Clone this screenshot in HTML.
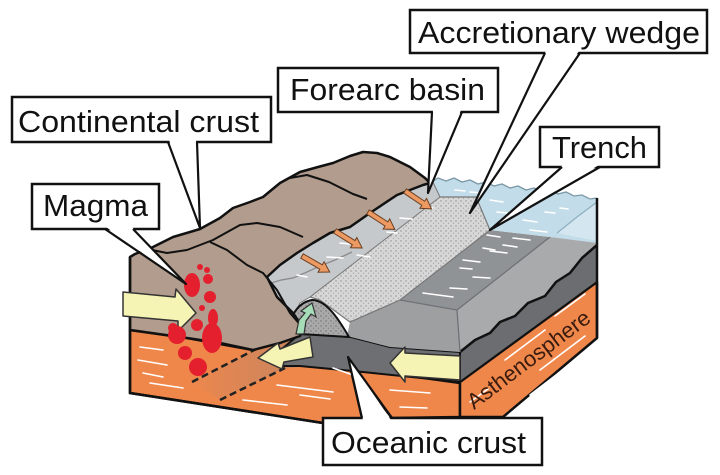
<!DOCTYPE html>
<html><head><meta charset="utf-8"><style>
html,body{margin:0;padding:0;background:#fff;}
svg{display:block;}
text{font-family:"Liberation Sans",Arial,sans-serif;fill:#111;}
</style></head><body>
<svg width="720" height="475" viewBox="0 0 720 475" xmlns="http://www.w3.org/2000/svg">
<defs>
<pattern id="dots" width="5" height="5" patternUnits="userSpaceOnUse">
<rect width="5" height="5" fill="#d7d7d7"/>
<circle cx="1" cy="1" r="0.7" fill="#8e8e8e"/>
<circle cx="3.5" cy="3.2" r="0.6" fill="#9c9c9c"/>
</pattern>
<pattern id="dots2" width="5" height="5" patternUnits="userSpaceOnUse">
<rect width="5" height="5" fill="#a9a9aa"/>
<circle cx="1" cy="1" r="0.7" fill="#6f6f6f"/>
<circle cx="3.5" cy="3.2" r="0.6" fill="#7a7a7a"/>
</pattern>
<linearGradient id="slabg" x1="0" y1="0" x2="1" y2="0">
<stop offset="0" stop-color="#ec874d"/><stop offset="1" stop-color="#c8855f"/>
</linearGradient>
</defs>

<!-- left orange block -->
<polygon points="130,330 187,338 253,350 283,347 300,337 348,357 362,418 323,423 130,393" fill="#ef874b" stroke="#111" stroke-width="2.5" stroke-linejoin="round"/>
<!-- subducted slab -->
<polygon points="192,382 262,346 300,335 300,367 283,369 220,400" fill="url(#slabg)"/>
<path d="M192,382 L262,346" stroke="#222" stroke-width="2.5" stroke-dasharray="7,4" fill="none"/>
<path d="M220,400 L285,368" stroke="#222" stroke-width="2.5" stroke-dasharray="7,4" fill="none"/>
<!-- right orange front -->
<polygon points="352,368 460,383 460,417 392,418" fill="#ef874b" stroke="#111" stroke-width="2.5" stroke-linejoin="round"/>
<!-- asthenosphere face -->
<polygon points="460,382 597,282 597,338 503,417 460,417" fill="#ef874b" stroke="#111" stroke-width="2.5" stroke-linejoin="round"/>
<!-- dark slab front -->
<polygon points="283,348 300,334 347,336 390,347 460,352 460,382 363,372 300,366 283,366" fill="#6d6f72" stroke="#111" stroke-width="2" stroke-linejoin="round"/>
<!-- right dark face -->
<polygon points="460,352 597,245 597,282 460,382" fill="#6b6d70" stroke="#111" stroke-width="2" stroke-linejoin="round"/>
<!-- region A -->
<polygon points="457,310 550,237 597,241 597,245 582,258 570,273 556,282 545,296 528,303 515,316 500,322 490,333 475,340 460,352" fill="#a8aaac"/>
<path d="M460,352 L475,340 L490,333 L500,322 L515,316 L528,303 L545,296 L556,282 L570,273 L582,258 L597,245" stroke="#111" stroke-width="2.5" fill="none" stroke-linejoin="round"/>
<!-- front face -->
<polygon points="350,322 400,300 457,310 460,352 390,347 347,336" fill="#9d9fa1"/>
<!-- region B -->
<polygon points="490,230 550,237 457,310 400,300" fill="#909396"/>
<path d="M550,237 L457,310" stroke="#6f7275" stroke-width="1.3" fill="none"/>
<path d="M400,300 L457,310 L460,352" stroke="#6f7275" stroke-width="1.3" fill="none"/>
<!-- water -->
<polygon points="430,183 438,178 446,181 454,178 462,182 470,180 478,184 486,182 494,186 502,184 510,188 518,186 526,190 534,188 542,192 550,190 558,194 566,192 574,196 582,195 590,199 597,198 597,243 550,237 490,230 476,197 437,197" fill="#c3dce9"/>
<polygon points="597,202 577,217 557,233 597,241" fill="#d4e7f0"/>
<path d="M597,202 L577,217 L557,233" stroke="#8fb0c0" stroke-width="1.3" fill="none"/>
<path d="M430,183 L438,178 L446,181 L454,178 L462,182 L470,180 L478,184 L486,182 L494,186 L502,184 L510,188 L518,186 L526,190 L534,188 L542,192 L550,190 L558,194 L566,192 L574,196 L582,195 L590,199 L597,198" stroke="#7d9aa8" stroke-width="1.3" fill="none"/>
<path d="M597,198 L597,338" stroke="#111" stroke-width="2.5"/>
<!-- stipple band -->
<polygon points="437,197 476,197 490,230 400,300 350,322 320,300 310,297" fill="url(#dots)" stroke="#777" stroke-width="1.2"/>
<!-- forearc -->
<polygon points="423,184 432,180 440,197 310,297 300,303 292,318 277,297 267,277 280,265 297,253 313,243 330,233 350,227 370,213 397,195" fill="#c6c9cb" stroke="#777" stroke-width="1"/>
<path d="M268,284 L281,280 L293,278 L307,272 L320,266 L335,260 L352,252" stroke="#8a8c8e" stroke-width="1.4" fill="none"/>
<!-- dome -->
<path d="M289,332 C290,313 300,302 312,300 C326,300 338,318 349,337 L300,334 Z" fill="url(#dots2)" stroke="#111" stroke-width="2"/>
<!-- brown continental -->
<polygon points="130,257 135,254 153,247 173,237 190,232 200,229 220,218 233,208 250,202 263,197 280,183 300,172 318,167 333,163 350,156 363,152 377,153 390,157 410,167 425,178 430,183 423,185 397,195 370,213 350,227 330,233 313,243 297,253 280,265 267,277 277,297 293,313 303,328 300,336 280,343 253,350 220,343 187,338 130,330" fill="#b19c8d" stroke="#111" stroke-width="2.5" stroke-linejoin="round"/>
<path d="M130,257 L130,393 L323,423" stroke="#111" stroke-width="2.5" fill="none"/>
<!-- ridge lines -->
<path d="M152,250 L167,253 L187,250 L213,240 L240,225 L257,223 L280,227 L303,237" stroke="#111" stroke-width="2" fill="none" stroke-linejoin="round"/>
<path d="M210,242 L227,250 L247,265 L263,273 L277,290 L290,313 L303,328" stroke="#111" stroke-width="2" fill="none" stroke-linejoin="round"/>
<path d="M290,178 L307,175 L329,182 L353,194 L367,199" stroke="#111" stroke-width="2" fill="none" stroke-linejoin="round"/>
<!-- white dashes -->
<g stroke="#fff" stroke-width="1.6" fill="none" stroke-linecap="round">
<path d="M470,192 l12,1"/><path d="M490,200 l13,2"/><path d="M497,212 l10,1"/><path d="M523,220 l14,2"/><path d="M560,208 l8,1"/><path d="M530,230 l17,2"/><path d="M455,190 l10,1"/><path d="M545,212 l10,1"/>
<path d="M487,235 l13,2"/><path d="M513,238 l17,2"/><path d="M503,245 l14,2"/><path d="M490,251 l17,2"/><path d="M463,260 l17,2"/><path d="M473,277 l17,1"/><path d="M450,288 l17,1"/><path d="M423,293 l30,4"/><path d="M483,248 l12,2"/><path d="M460,268 l12,1"/>
<path d="M423,207 l10,1"/><path d="M387,232 l10,1"/><path d="M357,255 l13,2"/><path d="M327,257 l16,1"/><path d="M297,275 l10,2"/><path d="M400,218 l12,1"/><path d="M340,243 l10,1"/>
<path d="M140,347 l23,3"/><path d="M138,360 l29,5"/><path d="M143,373 l20,4"/><path d="M150,383 l33,5"/><path d="M277,385 l56,7"/><path d="M333,368 l20,7"/><path d="M243,400 l44,5"/><path d="M300,395 l30,4"/>
<path d="M390,390 l40,3"/><path d="M400,407 l27,1"/>
<path d="M505,360 l40,-30"/><path d="M540,370 l45,-34"/><path d="M470,402 l18,-13"/><path d="M555,316 l30,-22"/><path d="M530,395 l30,-23"/>
</g>
<text transform="translate(474,410) rotate(-37)" font-size="22" textLength="148" lengthAdjust="spacingAndGlyphs" style="fill:#3a1c0e">Asthenosphere</text>
<!-- forearc orange arrows -->
<g fill="#ec9a62" stroke="#6b3f22" stroke-width="1">
<path transform="translate(405,191) rotate(34)" d="M0,-2.5 L22,-2.5 L22,-6 L32,0 L22,6 L22,2.5 L0,2.5 Z"/>
<path transform="translate(368,212) rotate(33)" d="M0,-2.5 L22,-2.5 L22,-6 L32,0 L22,6 L22,2.5 L0,2.5 Z"/>
<path transform="translate(335,231) rotate(32)" d="M0,-2.5 L22,-2.5 L22,-6 L32,0 L22,6 L22,2.5 L0,2.5 Z"/>
<path transform="translate(302,256) rotate(30)" d="M0,-2.5 L22,-2.5 L22,-6 L32,0 L22,6 L22,2.5 L0,2.5 Z"/>
</g>
<!-- yellow arrows -->
<g fill="#f6f4b4" stroke="#333" stroke-width="1.5" stroke-linejoin="round">
<polygon points="123,292 175,297 176,289 196,313 178,331 178,321 123,316"/>
<polygon points="258,358 278,343 280,349 310,337 313,357 284,362 282,369"/>
<polygon points="390,363 405,347 405,353 460,356 460,380 405,376 405,382"/>
</g>
<polygon points="296,334 299,320 305,313 301,311 312,303 316,317 311,314 306,321 304,334" fill="#a6dcb8" stroke="#333" stroke-width="1.2"/>
<!-- magma -->
<g fill="#e5202e">
<ellipse cx="192" cy="285" rx="8" ry="12"/>
<circle cx="200" cy="267" r="3"/><circle cx="207" cy="270" r="3"/>
<circle cx="208" cy="279" r="5"/><circle cx="210" cy="297" r="6"/>
<circle cx="202" cy="308" r="3"/><circle cx="197" cy="325" r="6"/>
<ellipse cx="213" cy="318" rx="5" ry="9"/><circle cx="177" cy="335" r="9"/>
<ellipse cx="212" cy="338" rx="10" ry="15"/><circle cx="185" cy="353" r="7"/>
<circle cx="198" cy="367" r="9"/><circle cx="173" cy="328" r="5"/>
</g>
<!-- callouts -->
<g fill="#fff" stroke="#111" stroke-width="2.5">
<rect x="12" y="97" width="259" height="45"/>
<rect x="32" y="184" width="127" height="45"/>
<rect x="278" y="68" width="220" height="44"/>
<rect x="410" y="10" width="297" height="43"/>
<rect x="540" y="127" width="119" height="40"/>
<rect x="323" y="418" width="219" height="47"/>
</g>
<g fill="#fff">
<polygon points="169,140 196,140 200,228"/>
<polygon points="106,227 132,227 186,284"/>
<polygon points="433,110 461,110 428,193"/>
<polygon points="546,51 579,51 470,213"/>
<polygon points="563,165 599,165 490,230"/>
<polygon points="363,420 391,420 348,357"/>
</g>
<g stroke="#111" stroke-width="2.2" fill="none" stroke-linejoin="round">
<path d="M168,142 L200,228 L197,142"/>
<path d="M105,229 L186,284 L133,229"/>
<path d="M432,112 L428,193 L462,112"/>
<path d="M545,53 L470,213 L580,53"/>
<path d="M562,167 L490,230 L600,167"/>
<path d="M362,418 L348,357 L392,418"/>
</g>
<g font-size="31">
<text x="18" y="132" textLength="241" lengthAdjust="spacingAndGlyphs">Continental crust</text>
<text x="43" y="216" textLength="105" lengthAdjust="spacingAndGlyphs">Magma</text>
<text x="290" y="100" textLength="195" lengthAdjust="spacingAndGlyphs">Forearc basin</text>
<text x="418" y="43" textLength="282" lengthAdjust="spacingAndGlyphs">Accretionary wedge</text>
<text x="552" y="158" textLength="95" lengthAdjust="spacingAndGlyphs">Trench</text>
<text x="331" y="453" textLength="195" lengthAdjust="spacingAndGlyphs">Oceanic crust</text>
</g>
</svg>
</body></html>
